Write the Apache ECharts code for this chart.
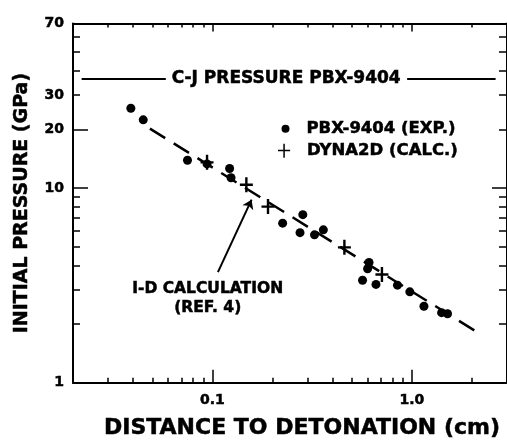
<!DOCTYPE html>
<html><head><meta charset="utf-8">
<script src="https://cdn.jsdelivr.net/npm/echarts@6/dist/echarts.min.js"></script>
<style>html,body{margin:0;padding:0;background:#fff}#c{width:507px;height:445px}</style>
</head><body><div id="c"></div>
<script>
// ---- data ----
const expX = [0.039, 0.045, 0.075, 0.094, 0.122, 0.124, 0.225, 0.284, 0.275, 0.325, 0.36, 0.61, 0.60, 0.566, 0.661, 0.847, 0.977, 1.15, 1.41, 1.51];
const expY = [25.7, 22.4, 13.9, 13.3, 12.6, 11.3, 6.6, 7.3, 5.9, 5.75, 6.1, 4.15, 3.85, 3.36, 3.2, 3.17, 2.93, 2.47, 2.29, 2.26];
const calcX = [0.094, 0.148, 0.19, 0.459, 0.708];
const calcY = [13.55, 10.4, 8.03, 4.96, 3.6];
const oneDX = [0.0486, 2.09];
const oneDY = [20.2, 1.84];
const cjPressure = 36.5;
const cjLeft = [0.0221, 0.0584];
const cjRight = [0.947, 2.63];
const cjTextAt = 0.2344;
const xRange = [0.02, 3];
const yRange = [1, 70];
const xMajorTicks = [0.1, 1];
const xTickLabels = ['0.1', '1.0'];
const xMinorTicks = [0.02, 0.03, 0.04, 0.05, 0.06, 0.07, 0.08, 0.09, 0.2, 0.3, 0.4, 0.5, 0.6, 0.7, 0.8, 0.9, 2, 3];
const yMajorTicks = [10, 20];
const yMinorTicks = [2, 3, 4, 5, 6, 7, 8, 9, 30, 40, 50, 60];
const yTickLabels = [1, 10, 20, 30, 70];
const arrowFrom = [0.1066, 3.7];
const arrowTo = [0.1572, 8.72];
const noteAt = [0.0947, 2.72];
const noteText = 'I-D CALCULATION\n(REF. 4)';
const cjText = 'C-J PRESSURE PBX-9404';
const expName = 'PBX-9404 (EXP.)';
const calcName = 'DYNA2D (CALC.)';

const L = Math.log10;
const F = 'DejaVu Sans';
const txt = (size, extra) => Object.assign({fontFamily: F, fontWeight: 'bold', fontSize: size, color: '#000',
  textBorderColor: '#000', textBorderWidth: 0.5}, extra || {});
const crossPath = 'path://M0,6.3H13V8.7H0Z M5.3,0H7.7V15H5.3Z';
const crossLegendPath = 'path://M0,6.4H13V8H0Z M5.7,0H7.3V15H5.7Z';

function axis(kind, pos, ticks, len, showLine, labels, extra) {
  const a = {
    type: 'value', position: pos,
    min: L(kind === 'x' ? xRange[0] : yRange[0]),
    max: L(kind === 'x' ? xRange[1] : yRange[1]),
    axisLine: {show: showLine, onZero: false, lineStyle: {color: '#000', width: 2}},
    axisTick: {show: true, inside: true, length: len, lineStyle: {color: '#000', width: 1.5}, customValues: ticks.map(L)},
    splitLine: {show: false},
    axisLabel: {show: false}
  };
  if (labels) a.axisLabel = labels;
  return Object.assign(a, extra || {});
}

const xLabels = {
  show: true, margin: 11, customValues: xMajorTicks.map(L),
  formatter: v => { const i = xMajorTicks.findIndex(t => Math.abs(L(t) - v) < 1e-6); return i >= 0 ? xTickLabels[i] : ''; },
  ...txt(14)
};
const yLabels = {
  show: true, margin: 9, customValues: yTickLabels.map(L),
  formatter: v => String(Math.round(Math.pow(10, v))),
  ...txt(14)
};
const segStyle = {color: '#000', width: 2, type: 'solid'};

const option = {
  animation: false,
  backgroundColor: '#fff',
  grid: {left: 73, top: 23.5, width: 437, height: 363.5, containLabel: false},
  xAxis: [
    axis('x', 'bottom', xMajorTicks, 13, true, xLabels, {
      name: 'DISTANCE TO DETONATION (cm)', nameLocation: 'middle', nameGap: 35,
      nameTextStyle: txt(22, {padding: [0, 0, 0, 24]})
    }),
    axis('x', 'bottom', xMinorTicks, 5, false),
    axis('x', 'top', xMajorTicks, 8, true),
    axis('x', 'top', xMinorTicks, 4, false)
  ],
  yAxis: [
    axis('y', 'left', yMajorTicks, 15, true, yLabels, {
      name: 'INITIAL PRESSURE (GPa)', nameLocation: 'middle', nameGap: 41,
      nameTextStyle: txt(19)
    }),
    axis('y', 'left', yMinorTicks, 7, false),
    axis('y', 'right', [10], 15, true),
    axis('y', 'right', yMinorTicks.concat([20]), 8, false)
  ],
  legend: [
    {data: [{name: expName, icon: 'circle', itemStyle: {color: '#000', opacity: 1}}], left: 281.5, top: 120, orient: 'vertical', padding: 0,
     itemWidth: 32, itemHeight: 8, selectedMode: false, textStyle: txt(16.5, {lineHeight: 16})},
    {data: [{name: calcName, icon: crossLegendPath, itemStyle: {color: '#000', opacity: 1}}], left: 278, top: 142, orient: 'vertical', padding: 0,
     itemWidth: 36, itemHeight: 14, selectedMode: false, textStyle: txt(16.5, {lineHeight: 16})}
  ],
  series: [
    {
      name: '1-D', type: 'line', xAxisIndex: 0, yAxisIndex: 0,
      data: oneDX.map((x, i) => [L(x), L(oneDY[i])]),
      symbol: 'none', lineStyle: {color: '#000', width: 2.5, type: [18, 10]},
      markLine: {
        silent: true, animation: false, symbol: ['none', 'none'], label: {show: false},
        data: [
          [{coord: [L(cjLeft[0]), L(cjPressure)], lineStyle: segStyle},
           {coord: [L(cjLeft[1]), L(cjPressure)]}],
          [{coord: [L(cjRight[0]), L(cjPressure)], lineStyle: segStyle},
           {coord: [L(cjRight[1]), L(cjPressure)]}],
          [{coord: [L(arrowFrom[0]), L(arrowFrom[1])], symbol: 'none', lineStyle: segStyle},
           {coord: [L(arrowTo[0]), L(arrowTo[1])], symbol: 'arrow', symbolSize: 9}]
        ]
      },
      markPoint: {
        silent: true, symbol: 'circle', symbolSize: 1, itemStyle: {color: 'rgba(0,0,0,0)'},
        data: [
          {coord: [L(noteAt[0]), L(noteAt[1])],
           label: {show: true, position: 'inside', formatter: noteText, lineHeight: 19, align: 'center', ...txt(15.5)}},
          {coord: [L(cjTextAt), L(cjPressure)],
           label: {show: true, position: 'inside', formatter: cjText, align: 'center', ...txt(17)}}
        ]
      }
    },
    {
      name: expName, type: 'scatter', xAxisIndex: 0, yAxisIndex: 0,
      data: expX.map((x, i) => [L(x), L(expY[i])]),
      symbol: 'circle', symbolSize: 9, itemStyle: {color: '#000', opacity: 1}
    },
    {
      name: calcName, type: 'scatter', xAxisIndex: 0, yAxisIndex: 0,
      data: calcX.map((x, i) => [L(x), L(calcY[i])]),
      symbol: crossPath, symbolSize: [13, 15], symbolKeepAspect: false, itemStyle: {color: '#000', opacity: 1}
    }
  ]
};
const chart = echarts.init(document.getElementById('c'), null, {renderer: 'canvas'});
chart.setOption(option);
</script></body></html>
